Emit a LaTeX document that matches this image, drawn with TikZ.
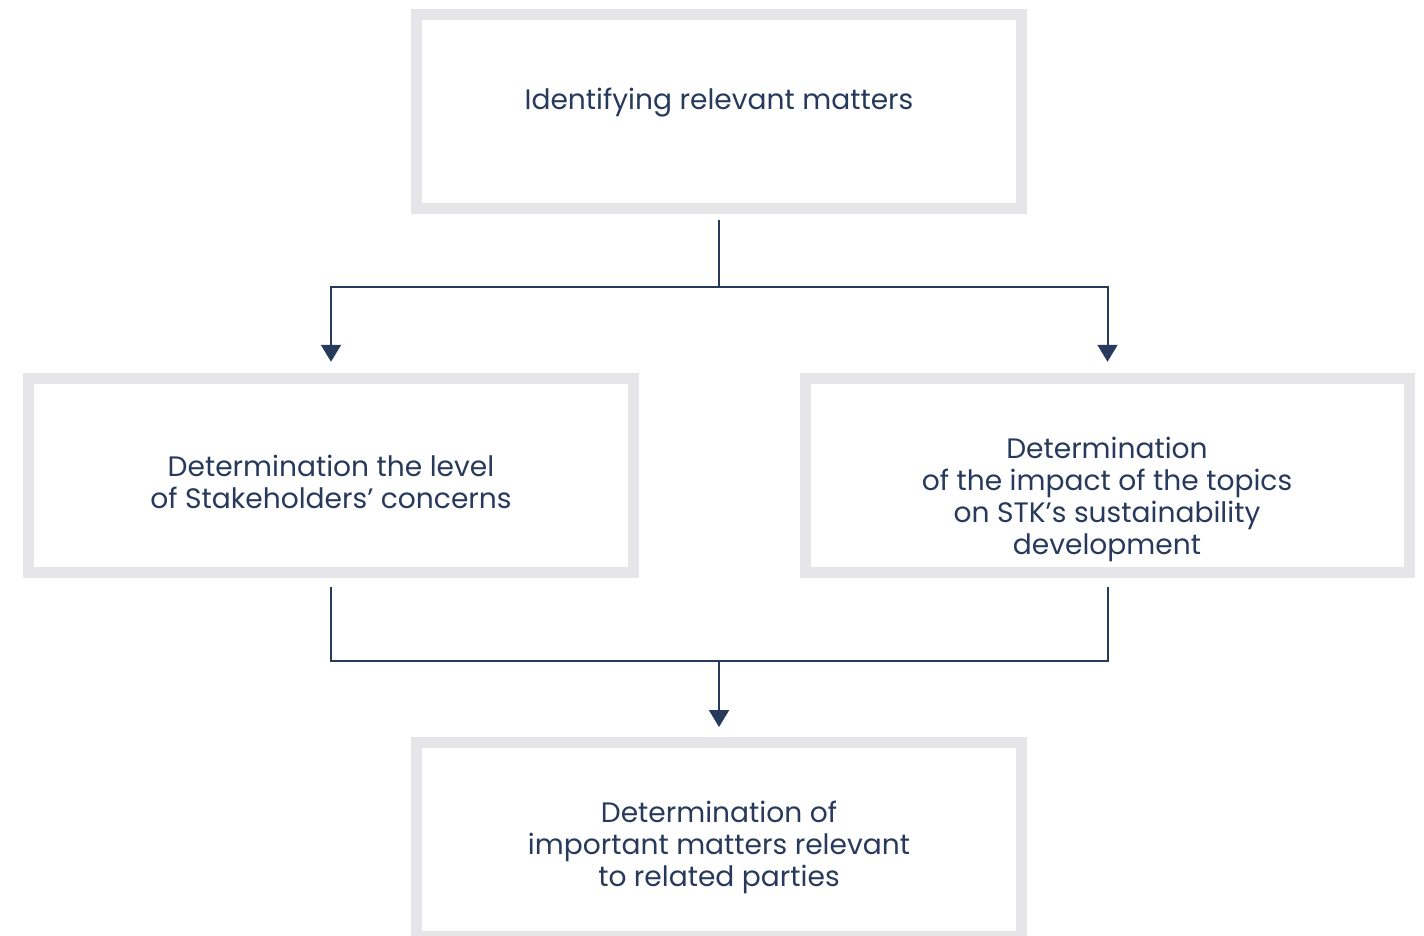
\documentclass[tikz,border=0pt]{standalone}
\usepackage{fontspec}
\setmainfont{Poppins}
\usepackage{tikz}
\usetikzlibrary{arrows.meta}

\definecolor{navy}{HTML}{273A5C}
\definecolor{frame}{HTML}{E6E6E8}

\begin{document}
\begin{tikzpicture}[x=0.02cm, y=-0.02cm,
    box/.style = {draw = frame, line width = 0.22cm, fill = white,
        minimum width = 12.1cm, minimum height = 3.88cm, inner sep = 0pt},
    txt/.style = {align = center, text = navy,
        font = \fontsize{16pt}{18.2pt}\selectfont},
    link/.style = {draw = navy, line width = 0.04cm},
    arrow/.style = {link, -{Triangle[width=0.4cm, length=0.34cm]}}]
        \useasboundingbox (0,0) rectangle (1424,936);

        \node (top_box)[box] at (719,111.5) {};
        \node (left_box)[box] at (331,475.25) {};
        \node (right_box)[box] at (1107.5,475.25) {};
        \node (bottom_box)[box] at (719,839.5) {};

        \node (top_text)[txt] at (719,103) {Identifying relevant matters};
        \node (left_text)[txt] at (331,482)
        {Determination the level\\of Stakeholders’ concerns};
        \node (right_text)[txt] at (1107,499)
        {Determination\\of the impact of the topics\\on STK’s sustainability\\development};
        \node (bottom_text)[txt] at (719,847)
        {Determination of\\important matters relevant\\to related parties};

        \coordinate (split) at (719,287);
        \coordinate (merge) at (719,661);

        \path(top_box.south) edge[link, shorten <=0.12cm] (split);
        \draw[arrow, shorten >=0.22cm] (split) -| (left_box.north);
        \draw[arrow, shorten >=0.22cm] (split) -| (right_box.north);
        \draw[link, shorten <=0.19cm] (left_box.south) |- (merge);
        \draw[link, shorten <=0.19cm] (right_box.south) |- (merge);
        \path(merge) edge[arrow, shorten >=0.2cm] (bottom_box.north);
    \end{tikzpicture}
\end{document}
